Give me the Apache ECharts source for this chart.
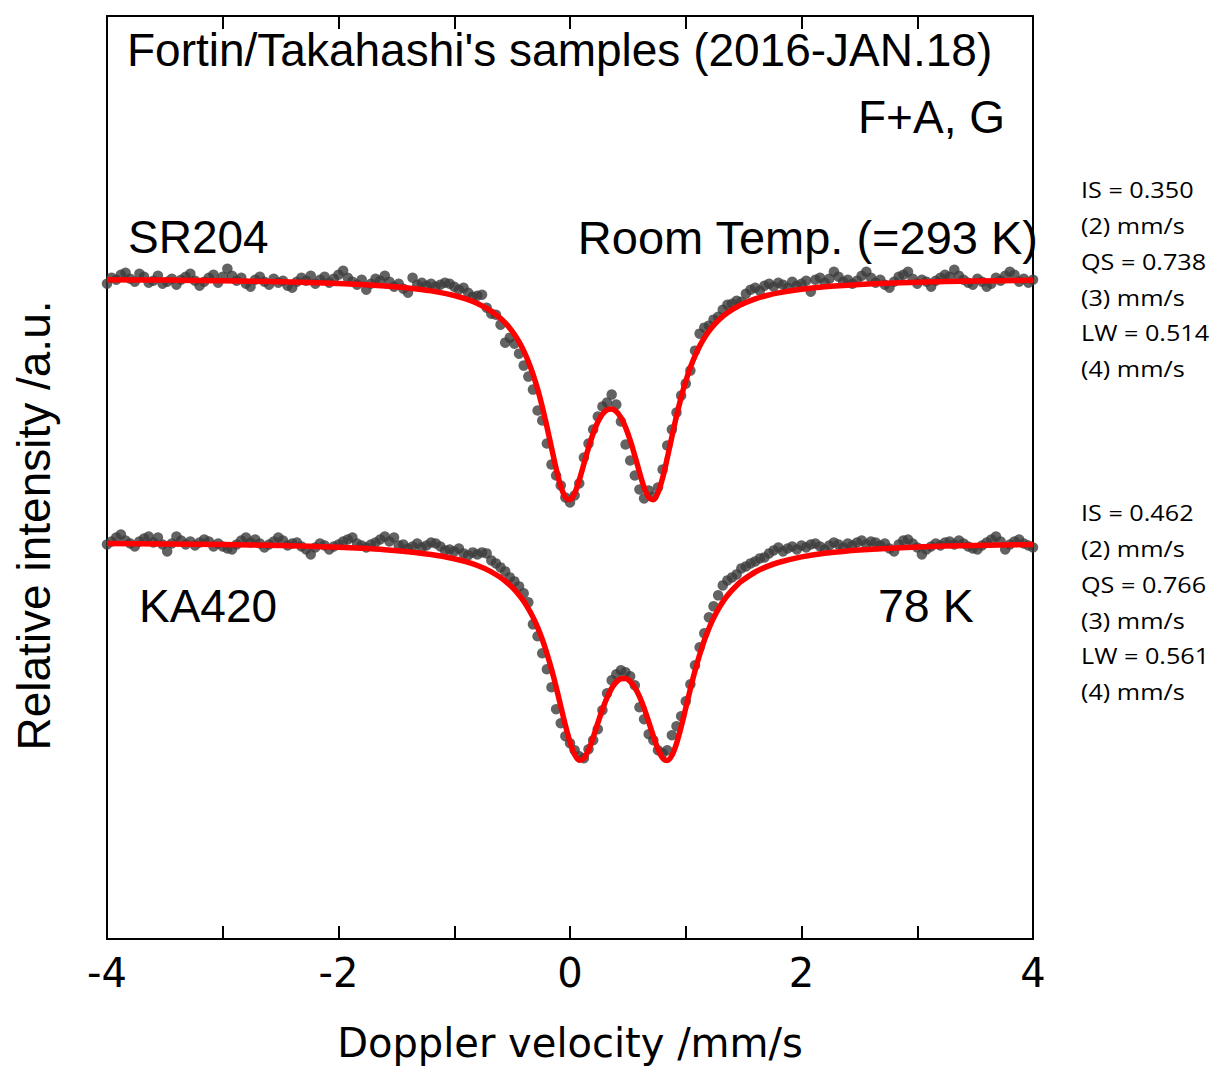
<!DOCTYPE html>
<html>
<head>
<meta charset="utf-8">
<title>Fortin/Takahashi's samples</title>
<script src="https://cdn.jsdelivr.net/npm/echarts@6/dist/echarts.min.js"></script>
<style>
  html, body { margin: 0; padding: 0; background: #ffffff; }
  #chart { width: 1217px; height: 1068px; }
</style>
</head>
<body>
<div id="chart"></div>
<script>
// ---------------- data ----------------
// Doppler velocity of each channel (mm/s)
const velocity = [
  -4.00,-3.96,-3.92,-3.88,-3.84,-3.80,-3.76,-3.72,-3.68,-3.64,
  -3.60,-3.56,-3.52,-3.48,-3.44,-3.40,-3.36,-3.32,-3.28,-3.24,
  -3.20,-3.16,-3.12,-3.08,-3.04,-3.00,-2.96,-2.92,-2.88,-2.84,
  -2.80,-2.76,-2.72,-2.68,-2.64,-2.60,-2.56,-2.52,-2.48,-2.44,
  -2.40,-2.36,-2.32,-2.28,-2.24,-2.20,-2.16,-2.12,-2.08,-2.04,
  -2.00,-1.96,-1.92,-1.88,-1.84,-1.80,-1.76,-1.72,-1.68,-1.64,
  -1.60,-1.56,-1.52,-1.48,-1.44,-1.40,-1.36,-1.32,-1.28,-1.24,
  -1.20,-1.16,-1.12,-1.08,-1.04,-1.00,-0.96,-0.92,-0.88,-0.84,
  -0.80,
  -0.76,-0.72,-0.68,-0.64,-0.60,-0.56,-0.52,-0.48,-0.44,-0.40,
  -0.36,-0.32,-0.28,-0.24,-0.20,-0.16,-0.12,-0.08,-0.04, 0.00,
   0.04, 0.08, 0.12, 0.16, 0.20, 0.24, 0.28, 0.32, 0.36, 0.40,
   0.44, 0.48, 0.52, 0.56, 0.60, 0.64, 0.68, 0.72, 0.76, 0.80,
   0.84, 0.88, 0.92, 0.96, 1.00, 1.04, 1.08, 1.12, 1.16, 1.20,
   1.24, 1.28, 1.32, 1.36, 1.40, 1.44, 1.48,
   1.52, 1.56, 1.60, 1.64, 1.68, 1.72, 1.76, 1.80, 1.84, 1.88,
   1.92, 1.96, 2.00, 2.04, 2.08, 2.12, 2.16, 2.20, 2.24, 2.28,
   2.32, 2.36, 2.40, 2.44, 2.48, 2.52, 2.56, 2.60, 2.64, 2.68,
   2.72, 2.76, 2.80, 2.84, 2.88, 2.92, 2.96, 3.00, 3.04, 3.08,
   3.12, 3.16, 3.20, 3.24, 3.28, 3.32, 3.36, 3.40, 3.44, 3.48,
   3.52, 3.56, 3.60, 3.64, 3.68, 3.72, 3.76, 3.80, 3.84, 3.88,
   3.92, 3.96, 4.00
];

// SR204, room temperature: measured relative intensity (a.u., offset spectrum)
const sr204Counts = [
  65.6,66.2,66.0,66.5,66.7,66.1,65.8,66.6,66.3,65.7,
  65.9,66.4,65.6,65.8,66.1,65.5,66.0,66.3,66.6,65.9,
  65.4,65.8,66.2,66.5,65.7,66.3,67.1,66.4,65.9,66.2,
  65.6,65.3,66.0,66.3,65.8,65.5,66.1,65.7,65.9,65.4,
  65.2,65.8,66.2,65.9,66.4,65.6,66.0,66.3,65.7,66.1,
  66.5,66.9,66.2,65.8,65.5,66.0,65.0,65.6,66.1,65.9,
  66.4,65.8,65.3,65.6,65.1,64.7,66.2,65.5,65.7,65.4,
  65.6,65.3,65.5,65.7,65.6,65.3,65.0,65.2,64.7,64.3,
  64.4,
  64.5,63.2,62.6,62.5,61.5,59.7,60.2,59.6,58.6,57.4,
  56.3,55.0,52.9,51.9,49.6,47.5,46.4,45.4,44.2,43.7,
  44.4,45.6,48.2,49.6,51.0,52.3,53.3,53.7,54.5,53.5,
  51.8,49.5,47.9,46.4,45.0,44.1,44.9,44.3,45.2,47.0,
  49.4,51.0,52.7,54.4,55.6,56.9,58.9,60.6,61.2,61.4,
  62.0,62.3,63.0,63.5,63.6,63.9,63.8,
  64.6,65.0,65.2,64.9,65.4,65.6,65.3,65.7,65.5,65.2,
  65.8,65.4,65.6,65.9,64.8,66.0,66.2,65.7,66.1,66.8,
  66.3,65.8,66.0,65.6,65.9,66.4,66.8,66.2,65.7,66.0,
  65.5,65.2,65.8,66.3,66.5,66.8,66.1,65.6,66.0,65.8,
  65.3,65.9,66.2,66.5,66.3,67.0,66.4,66.0,65.7,65.5,
  66.1,65.8,65.3,65.6,66.2,65.9,66.4,66.8,66.5,65.8,
  66.1,65.7,66.0
];

// KA420, 78 K: measured relative intensity (a.u., offset spectrum)
const ka420Counts = [
  39.5,39.8,40.2,40.5,39.9,39.6,39.3,39.8,40.1,40.3,
  39.7,40.2,39.5,38.8,39.6,40.3,39.9,39.5,39.8,39.4,
  39.7,40.0,39.8,39.3,39.6,39.3,39.1,39.0,39.5,39.9,
  40.2,39.7,40.0,39.6,39.2,39.5,39.8,40.2,39.9,39.4,
  39.6,39.7,39.3,39.0,38.5,39.2,39.6,39.4,39.0,39.3,
  39.5,39.8,40.0,40.2,39.6,39.4,39.2,39.5,39.7,40.0,
  40.3,39.8,40.2,39.4,39.5,39.1,39.3,39.6,39.2,39.4,
  39.7,39.6,39.3,38.9,39.0,38.8,39.1,38.6,38.4,38.7,
  38.5,
  38.7,38.6,37.9,37.6,37.2,36.8,36.2,35.8,35.3,34.6,
  33.7,31.5,30.3,28.6,27.0,25.2,23.0,21.6,20.3,19.6,
  18.9,18.3,18.1,19.0,19.9,21.0,22.9,24.6,25.9,26.5,
  26.9,26.7,26.3,25.4,23.2,22.0,20.5,19.9,18.9,18.6,
  18.9,20.4,21.3,22.3,23.8,25.5,27.4,29.2,30.6,32.2,
  33.3,34.4,35.4,35.9,36.2,36.5,37.1,
  37.3,37.6,37.8,38.1,38.2,38.6,38.9,39.2,38.8,39.1,
  39.3,39.0,39.4,39.2,39.5,39.6,39.3,39.0,39.4,39.7,
  39.5,39.2,39.6,39.4,39.7,39.9,39.5,39.8,39.7,39.4,
  39.6,39.1,38.8,39.5,39.9,40.0,39.6,39.2,38.5,39.0,
  39.3,39.6,39.4,39.7,39.8,39.5,39.9,39.6,39.3,39.1,
  39.0,39.4,39.7,40.0,40.3,39.8,39.0,39.5,39.8,40.0,
  39.6,39.4,39.2
];

// velocities at which the fitted curves were read
const fitVelocity = [
  -4.0,-3.5,-3.0,-2.5,-2.0,-1.8,-1.6,-1.4,-1.2,-1.0,-0.9,-0.8,-0.7,
  -0.60,-0.56,-0.52,-0.48,-0.44,-0.40,-0.36,-0.32,-0.28,-0.24,
  -0.20,-0.16,-0.12,-0.08,-0.04, 0.00, 0.04, 0.08, 0.12, 0.16,
   0.20, 0.24, 0.28, 0.32, 0.36, 0.40, 0.44, 0.48, 0.52, 0.56,
   0.60, 0.64, 0.68, 0.72, 0.76, 0.80, 0.84, 0.88, 0.92, 0.96,
   1.00, 1.04, 1.08, 1.12, 1.16, 1.20, 1.24, 1.28, 1.32, 1.36,
   1.40, 1.44, 1.48,
   1.6, 1.7, 1.8, 2.0, 2.2, 2.5, 3.0, 3.5, 4.0
];

// fitted doublet, SR204 (red curve)
const sr204Fit = [
  66.00,65.96,65.90,65.80,65.63,65.53,65.38,65.18,64.88,64.42,64.08,63.63,63.01,
  62.14,61.68,61.15,60.52,59.77,58.88,57.82,56.55,55.05,53.30,
  51.32,49.19,47.10,45.33,44.22,43.98,44.63,45.94,47.56,49.18,
  50.61,51.75,52.54,52.98,53.06,52.80,52.19,51.22,49.93,48.38,
  46.73,45.23,44.21,43.98,44.67,46.15,48.13,50.27,52.34,54.21,
  55.83,57.22,58.38,59.35,60.16,60.85,61.43,61.92,62.34,62.70,
  63.01,63.27,63.52,
  64.08,64.42,64.68,65.05,65.29,65.53,65.75,65.86,65.94
];

// fitted doublet, KA420 (red curve)
const ka420Fit = [
  39.59,39.55,39.49,39.39,39.21,39.11,38.97,38.77,38.49,38.07,37.77,37.39,36.88,
  36.19,35.84,35.44,34.98,34.44,33.82,33.08,32.22,31.20,30.01,
  28.61,27.02,25.23,23.32,21.41,19.71,18.47,17.89,18.07,18.91,
  20.17,21.60,22.97,24.17,25.10,25.73,26.06,26.08,25.78,25.18,
  24.28,23.11,21.74,20.31,19.02,18.13,17.88,18.37,19.56,21.22,
  23.12,25.04,26.85,28.46,29.88,31.09,32.12,33.00,33.75,34.38,
  34.93,35.40,35.81,
  36.74,37.28,37.69,38.25,38.61,38.95,39.25,39.40,39.50
];

// axis
const xLabelTicks = [-4, -2, 0, 2, 4];

// texts
const titleText = "Fortin/Takahashi's samples (2016-JAN.18)";
const sampleSetText = 'F+A, G';
const sr204Label = 'SR204';
const sr204Temp = 'Room Temp. (=293 K)';
const ka420Label = 'KA420';
const ka420Temp = '78 K';
const sr204Params = ['IS = 0.350', '(2) mm/s', 'QS = 0.738', '(3) mm/s', 'LW = 0.514', '(4) mm/s'];
const ka420Params = ['IS = 0.462', '(2) mm/s', 'QS = 0.766', '(3) mm/s', 'LW = 0.561', '(4) mm/s'];

// ---------------- chart ----------------
const chart = echarts.init(document.getElementById('chart'), null, { renderer: 'svg' });

const ARIAL = '"Liberation Sans", Arial, sans-serif';
const AXISFONT = '"DejaVu Sans", sans-serif';
const SIDEFONT = '"Open Sans", sans-serif';

function bigText(text, x, y, align, size) {
  return {
    type: 'text', x: x, y: y, z: 100,
    style: {
      text: text, fill: '#000000',
      font: (size || 46) + 'px ' + ARIAL,
      textAlign: align, align: align,
      textVerticalAlign: 'middle', verticalAlign: 'middle'
    }
  };
}
function sideText(text, x, y) {
  return {
    type: 'text', x: x, y: y, z: 100, scaleX: 1.2, scaleY: 1,
    style: {
      text: text, fill: '#000000',
      font: '21px ' + SIDEFONT,
      textAlign: 'left', align: 'left',
      textVerticalAlign: 'middle', verticalAlign: 'middle'
    }
  };
}

const graphics = [
  bigText(titleText, 127, 50, 'left', 46),
  bigText(sampleSetText, 1005, 117, 'right', 46),
  bigText(sr204Label, 128, 237, 'left', 46),
  bigText(sr204Temp, 1038, 237, 'right', 47),
  bigText(ka420Label, 139, 606, 'left', 46),
  bigText(ka420Temp, 878, 606, 'left', 46.5)
];
sr204Params.forEach((t, i) => graphics.push(sideText(t, 1081, 190 + i * 35.8)));
ka420Params.forEach((t, i) => graphics.push(sideText(t, 1081, 513 + i * 35.8)));

const axisLineStyle = { color: '#000000', width: 2 };

const option = {
  animation: false,
  backgroundColor: '#ffffff',
  grid: { left: 107, right: 184, top: 16, bottom: 128, containLabel: false },
  xAxis: [
    {
      type: 'value', min: -4, max: 4, interval: 1, position: 'bottom',
      name: 'Doppler velocity /mm/s', nameLocation: 'middle', nameGap: 84,
      nameTextStyle: { fontFamily: AXISFONT, fontSize: 40, color: '#000000' },
      axisLine: { show: true, onZero: false, lineStyle: axisLineStyle },
      axisTick: { show: true, inside: true, length: 13, lineStyle: { color: '#000000', width: 2 } },
      axisLabel: {
        show: true, margin: 14, color: '#000000', fontFamily: AXISFONT, fontSize: 40,
        formatter: function (v) { return xLabelTicks.indexOf(v) >= 0 ? String(v) : ''; }
      },
      splitLine: { show: false }
    },
    {
      type: 'value', min: -4, max: 4, interval: 1, position: 'top',
      axisLine: { show: true, onZero: false, lineStyle: axisLineStyle },
      axisTick: { show: true, inside: true, length: 13, lineStyle: { color: '#000000', width: 2 } },
      axisLabel: { show: false },
      splitLine: { show: false }
    }
  ],
  yAxis: [
    {
      type: 'value', min: 0, max: 92.4, position: 'left',
      name: 'Relative intensity /a.u.', nameLocation: 'middle', nameRotate: 90, nameGap: 50,
      nameTextStyle: { fontFamily: ARIAL, fontSize: 46, color: '#000000', padding: [0, 96, 0, 0] },
      axisLine: { show: true, onZero: false, lineStyle: axisLineStyle },
      axisTick: { show: false }, axisLabel: { show: false }, splitLine: { show: false }
    },
    {
      type: 'value', min: 0, max: 92.4, position: 'right',
      axisLine: { show: true, onZero: false, lineStyle: axisLineStyle },
      axisTick: { show: false }, axisLabel: { show: false }, splitLine: { show: false }
    }
  ],
  series: [
    {
      name: 'SR204 data', type: 'scatter', xAxisIndex: 0, yAxisIndex: 0, clip: false,
      symbol: 'circle', symbolSize: 10.5, z: 2,
      itemStyle: { color: '#3c3c3c' },
      data: velocity.map((v, i) => [v, sr204Counts[i]])
    },
    {
      name: 'KA420 data', type: 'scatter', xAxisIndex: 0, yAxisIndex: 0, clip: false,
      symbol: 'circle', symbolSize: 10.5, z: 2,
      itemStyle: { color: '#3c3c3c' },
      data: velocity.map((v, i) => [v, ka420Counts[i]])
    },
    {
      name: 'SR204 fit', type: 'line', xAxisIndex: 0, yAxisIndex: 0, z: 5,
      showSymbol: false, symbol: 'none', smooth: 0.3,
      lineStyle: { color: '#ff0000', width: 5.5 },
      data: fitVelocity.map((v, i) => [v, sr204Fit[i]])
    },
    {
      name: 'KA420 fit', type: 'line', xAxisIndex: 0, yAxisIndex: 0, z: 5,
      showSymbol: false, symbol: 'none', smooth: 0.3,
      lineStyle: { color: '#ff0000', width: 5.5 },
      data: fitVelocity.map((v, i) => [v, ka420Fit[i]])
    }
  ],
  graphic: { elements: graphics }
};

chart.setOption(option);
</script>
</body>
</html>
